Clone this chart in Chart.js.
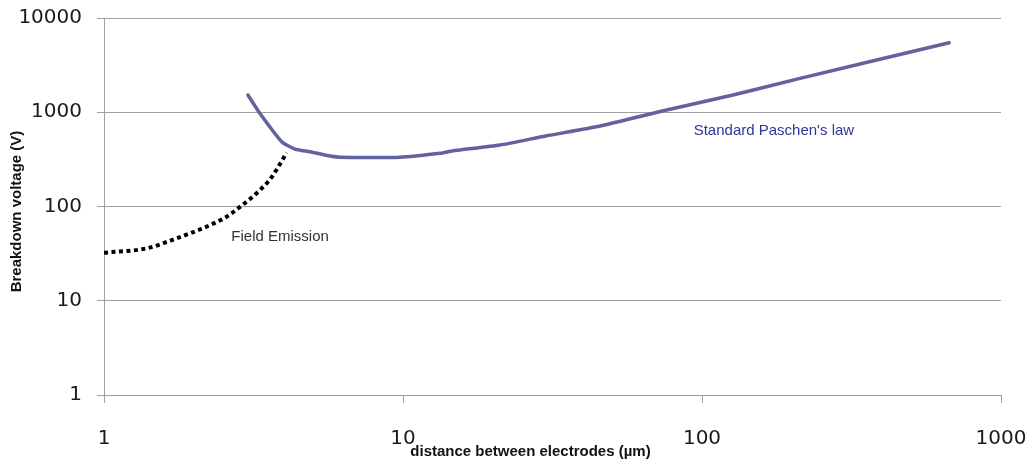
<!DOCTYPE html>
<html>
<head>
<meta charset="utf-8">
<script src="https://cdn.jsdelivr.net/npm/chart.js@4.4.1/dist/chart.umd.min.js"></script>
<style>
  html, body { margin: 0; padding: 0; background: #ffffff; }
  canvas { display: block; }
</style>
</head>
<body>
<canvas id="chart" width="1032" height="466"></canvas>
<script>
// Decade ticks on both logarithmic axes
const xTickValues = [1, 10, 100, 1000];
const yTickValues = [1, 10, 100, 1000, 10000];

// Standard Paschen curve: gap (µm) vs breakdown voltage (V)
const paschenGap     = [3.03, 3.32, 3.93, 4.35, 4.89, 5.70, 6.16, 9.77, 13.3, 14.7, 21.1, 30, 45.6, 76.2, 127, 212.7, 671];
const paschenVoltage = [1524, 975,  487,  407,  381,  343,  333,  333,  367,  390,  449,  560, 714, 1056, 1524, 2290, 5470];

// Field emission regime at small gaps
const emissionGap     = [1.0,  1.39, 1.75, 2.2, 2.57, 2.85, 3.16, 3.37, 3.54, 3.68, 3.83, 4.08];
const emissionVoltage = [32.3, 36,   46,   61,  78,   99,   129,  156,  183,  216,  264,  372];

// Curve captions, anchored in data units
const curveCaptions = [
  { text: "Standard Paschen's law", gap: 174, volts: 632, color: '#333399' },
  { text: 'Field Emission', gap: 3.88, volts: 47.5, color: '#333333' }
];

const xTitle = 'distance between electrodes (µm)';
const yTitle = 'Breakdown voltage (V)';

const toPoints = (xs, ys) => xs.map((x, i) => ({ x: x, y: ys[i] }));

const GRID = '#a0a0a0';

const captionPlugin = {
  id: 'captions',
  afterDatasetsDraw(chart) {
    const { ctx, scales, chartArea } = chart;
    ctx.save();
    ctx.font = '15px "Liberation Sans", Arial, sans-serif';
    ctx.textAlign = 'center';
    ctx.textBaseline = 'middle';
    curveCaptions.forEach(c => {
      ctx.fillStyle = c.color;
      ctx.fillText(c.text, scales.x.getPixelForValue(c.gap), scales.y.getPixelForValue(c.volts));
    });
    // axis titles
    ctx.font = 'bold 15px "Liberation Sans", Arial, sans-serif';
    ctx.fillStyle = '#111111';
    ctx.fillText(xTitle, (chartArea.left + chartArea.right) / 2 - 22, 452);
    ctx.translate(17, (chartArea.top + chartArea.bottom) / 2 + 5);
    ctx.rotate(-Math.PI / 2);
    ctx.fillText(yTitle, 0, 0);
    ctx.restore();
  }
};

new Chart(document.getElementById('chart'), {
  type: 'scatter',
  data: {
    datasets: [
      {
        label: "Standard Paschen's law",
        data: toPoints(paschenGap, paschenVoltage),
        showLine: true,
        borderColor: '#62629c',
        borderWidth: 3.5,
        pointRadius: 0,
        tension: 0.2,
        borderCapStyle: 'round',
        borderJoinStyle: 'round',
        order: 0
      },
      {
        label: 'Field Emission',
        data: toPoints(emissionGap, emissionVoltage),
        showLine: true,
        borderColor: '#000000',
        borderWidth: 4,
        borderDash: [4, 3.5],
        pointRadius: 0,
        cubicInterpolationMode: 'monotone',
        order: 1
      }
    ]
  },
  options: {
    responsive: false,
    animation: false,
    devicePixelRatio: 1,
    layout: { padding: { left: 0, top: 18, right: 31, bottom: 0 } },
    plugins: {
      legend: { display: false },
      tooltip: { enabled: false },
      title: { display: false }
    },
    scales: {
      x: {
        type: 'logarithmic',
        position: 'bottom',
        min: 1,
        max: 1000,
        afterBuildTicks: s => { s.ticks = xTickValues.map(v => ({ value: v })); },
        afterFit: s => { s.height = 71; s.paddingLeft = 0; s.paddingRight = 0; },
        ticks: {
          autoSkip: false,
          maxRotation: 0,
          padding: 24,
          color: '#1a1a1a',
          font: { family: 'DejaVu Sans', size: 20 },
          callback: v => String(v)
        },
        grid: { drawOnChartArea: false, drawTicks: true, tickLength: 8, color: GRID },
        border: { color: GRID }
      },
      y: {
        type: 'logarithmic',
        position: 'left',
        min: 1,
        max: 10000,
        afterBuildTicks: s => { s.ticks = yTickValues.map(v => ({ value: v })); },
        afterFit: s => { s.width = 104; s.paddingTop = 0; s.paddingBottom = 0; },
        ticks: {
          autoSkip: false,
          padding: 15,
          color: '#1a1a1a',
          font: { family: 'DejaVu Sans', size: 20 },
          callback: v => String(v)
        },
        grid: { color: GRID, tickLength: 7 },
        border: { color: GRID }
      }
    }
  },
  plugins: [captionPlugin]
});
</script>
</body>
</html>
